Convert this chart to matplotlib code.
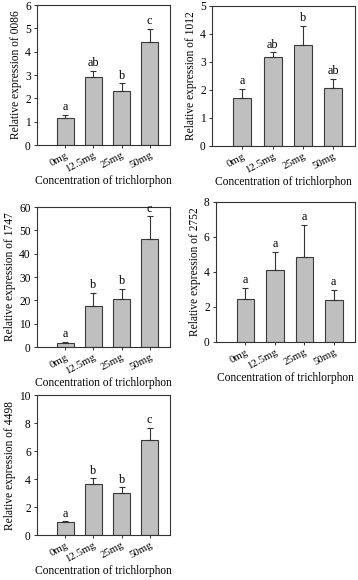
import matplotlib
matplotlib.use("Agg")
import matplotlib.pyplot as plt
import numpy as np

categories = ["0mg", "12.5mg", "25mg", "50mg"]

genes = ["0086", "1012", "1747", "2752", "4498"]
means_0086 = [1.14, 2.90, 2.30, 4.40]
err_0086 = [0.15, 0.27, 0.34, 0.57]
letters_0086 = ["a", "ab", "b", "c"]
means_1012 = [1.73, 3.17, 3.59, 2.06]
err_1012 = [0.32, 0.17, 0.69, 0.34]
letters_1012 = ["a", "ab", "b", "ab"]
means_1747 = [1.9, 17.6, 20.4, 46.1]
err_1747 = [0.3, 5.7, 4.6, 9.9]
letters_1747 = ["a", "b", "b", "c"]
means_2752 = [2.48, 4.10, 4.88, 2.42]
err_2752 = [0.61, 1.04, 1.82, 0.57]
letters_2752 = ["a", "a", "a", "a"]
means_4498 = [0.90, 3.64, 3.00, 6.79]
err_4498 = [0.08, 0.41, 0.40, 0.88]
letters_4498 = ["a", "b", "b", "c"]

ymax = [6, 5, 60, 8, 10]
ystep = [1, 1, 10, 2, 2]

data = [
    (means_0086, err_0086, letters_0086),
    (means_1012, err_1012, letters_1012),
    (means_1747, err_1747, letters_1747),
    (means_2752, err_2752, letters_2752),
    (means_4498, err_4498, letters_4498),
]

W, H = 358, 580
# axes rectangles in pixels: left, top, right, bottom
rects = [
    (37, 5, 170, 145),
    (212, 6, 355, 146),
    (37, 207, 170, 347),
    (216, 202, 355, 342),
    (37, 395, 170, 535),
]

plt.rcParams['font.family'] = ['Liberation Serif', 'DejaVu Serif']
fs = 8.3

fig = plt.figure(figsize=(W / 100, H / 100), dpi=100)
spine_c = "#333333"
for i, (gene, (m, e, lt), r) in enumerate(zip(genes, data, rects)):
    l, t, rr, b = r
    ax = fig.add_axes([l / W, 1 - b / H, (rr - l) / W, (b - t) / H])
    x = np.arange(1, len(categories) + 1)
    ax.bar(x, m, width=0.6, color="#bfbfbf", edgecolor="#3a3a3a", linewidth=0.8, zorder=2)
    ax.errorbar(x, m, yerr=[np.zeros(len(m)), e], fmt="none", ecolor="#333333",
                elinewidth=0.8, capsize=2.2, capthick=0.8, zorder=3)
    for xi, mi, ei, li in zip(x, m, e, lt):
        ax.text(xi, mi + ei + ymax[i] * 0.012, li, ha="center", va="bottom", fontsize=8.8)
    ax.set_xlim(0, 4.72)
    ax.set_ylim(0, ymax[i])
    ax.set_yticks(np.arange(0, ymax[i] + 0.001, ystep[i]))
    ax.set_xticks(x)
    ax.set_xticklabels(categories, rotation=28, ha="right", rotation_mode="anchor", fontsize=7.8)
    ax.tick_params(axis="y", labelsize=fs, length=2.5, width=0.7, color=spine_c, pad=2)
    ax.tick_params(axis="x", length=2.5, width=0.7, color=spine_c, pad=1.5)
    for s in ax.spines.values():
        s.set_color(spine_c)
        s.set_linewidth(0.8)
    ax.set_ylabel("Relative expression of " + gene, fontsize=fs, labelpad=2)
    ax.set_xlabel("Concentration of trichlorphon", fontsize=fs, labelpad=0.5)

fig.savefig("out.png", dpi=100)
